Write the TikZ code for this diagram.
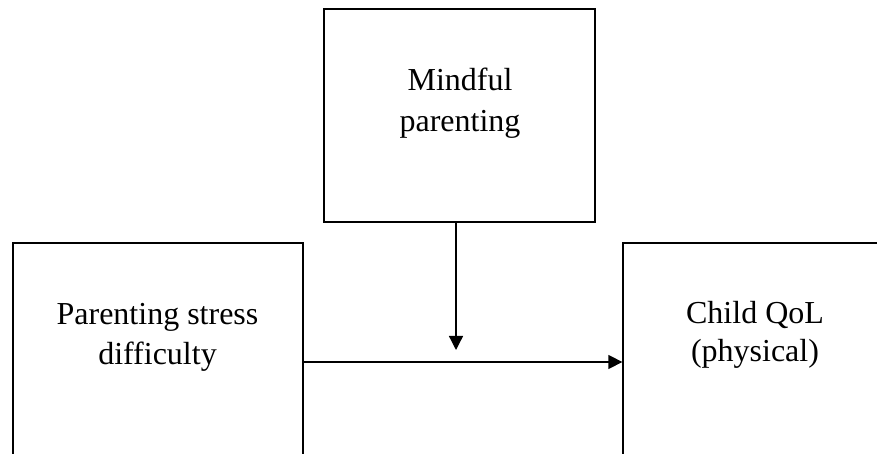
\documentclass[tikz,border=0pt]{standalone}
\usepackage{fontspec}
\setmainfont{Liberation Serif}
\usetikzlibrary{arrows.meta}
\begin{document}
\begin{tikzpicture}[x=1pt,y=1pt,
  box/.style={draw,line width=1.3pt,rectangle,inner sep=0pt},
  txt/.style={inner sep=0pt,anchor=base,font=\fontsize{32}{40}\selectfont},
  link/.style={line width=1.3pt,-{Triangle[length=14pt,width=14pt]}}]
  \useasboundingbox (0,0) rectangle (877,454);
  % boxes
  \node[box,minimum width=271pt,minimum height=213pt] (mind) at (459.5,338.5) {};
  \node[box,minimum width=290pt,minimum height=220pt] (stress) at (158,101) {};
  \node[box,minimum width=290pt,minimum height=220pt] (qol) at (768,101) {};
  % labels
  \node[txt] (mind1) at (460,363) {Mindful};
  \node[txt] (mind2) at (460,322) {parenting};
  \node[txt] (stress1) at (157.5,129) {Parenting stress};
  \node[txt] (stress2) at (157.5,89) {difficulty};
  \node[txt] (qol1) at (755,130) {Child QoL};
  \node[txt] (qol2) at (755,92) {(physical)};
  % connectors
  \coordinate (modtip) at (456,104);
  \draw[link] (mind.south -| modtip) -- (modtip);
  \draw[link] (stress.east |- 0,92) -- (qol.west |- 0,92);
\end{tikzpicture}
\end{document}
